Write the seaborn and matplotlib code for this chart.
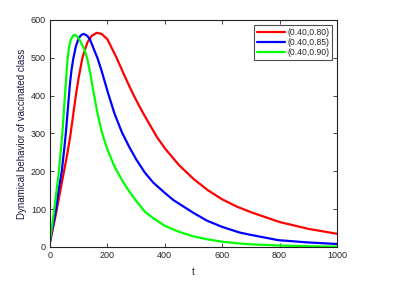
import numpy as np
import pandas as pd
import matplotlib
matplotlib.use("Agg")
from matplotlib import pyplot as plt
import seaborn as sns

# values
t_red = [0, 10, 20, 30, 40, 50, 60, 70, 80, 90, 100, 113, 130, 145, 163, 180, 200, 232, 260, 287, 310,
         331, 373, 401, 450, 500, 550, 600, 650, 700, 800, 900, 1000]
v_red = [12, 48, 85, 125, 165, 205, 245, 290, 345, 400, 448, 500, 540, 558, 566, 563, 549, 500, 452, 408, 374,
         345, 290, 260, 216, 180, 150, 126, 107, 92, 66, 48, 35]

t_blue = [0, 10, 21, 30, 41, 50, 55, 60, 66, 70, 75, 81, 90, 100, 110, 118, 130, 140, 150, 166, 180, 203,
          225, 250, 275, 300, 330, 360, 400, 430, 500, 546, 600, 662, 700, 796, 900, 1000]
v_blue = [15, 55, 100, 150, 200, 262, 300, 345, 400, 435, 468, 497, 530, 552, 561, 563, 558, 547, 528, 498, 465, 405,
          352, 304, 266, 232, 197, 170, 143, 124, 90, 70, 53, 38, 32, 18, 12, 8]

t_green = [0, 8, 15, 23, 31, 43, 52, 61, 66, 72, 80, 87, 95, 105, 120, 130, 140, 151, 165, 180, 200, 225,
           250, 275, 300, 331, 360, 400, 450, 500, 550, 600, 650, 700, 800, 900, 1000]
v_green = [18, 60, 100, 150, 200, 300, 400, 495, 527, 547, 558, 561, 556, 545, 522, 497, 460, 412, 355, 305, 258, 212,
           178, 148, 122, 93, 76, 56, 40, 28, 20, 14, 10, 7, 4, 2, 1]

labels = ["(0.40,0.80)", "(0.40,0.85)", "(0.40,0.90)"]
colors = ["#ff0000", "#0000ff", "#00ff00"]

df = pd.concat([
    pd.DataFrame({"t": t_red, "v": v_red, "case": labels[0]}),
    pd.DataFrame({"t": t_blue, "v": v_blue, "case": labels[1]}),
    pd.DataFrame({"t": t_green, "v": v_green, "case": labels[2]}),
])

sns.set_style("ticks")
plt.rcParams['font.family'] = ['Liberation Sans', 'DejaVu Sans']

fig = plt.figure(figsize=(4, 2.81), dpi=100)
ax = fig.add_axes([0.125, 0.121, 0.7175, 0.808])

sns.lineplot(data=df, x="t", y="v", hue="case", hue_order=labels, palette=colors,
             linewidth=1.6, ax=ax, sort=False, estimator=None)

ax.set_xlim(0, 1000)
ax.set_ylim(0, 600)
ax.set_xticks(np.arange(0, 1001, 200))
ax.set_yticks(np.arange(0, 601, 100))
ax.tick_params(direction="in", length=3, width=0.6, labelsize=6.5, top=True, right=True, pad=3)
for s in ax.spines.values():
    s.set_visible(True)
    s.set_linewidth(0.8)
    s.set_color("#222222")

ax.set_xlabel("t", fontsize=7, labelpad=5)
ax.set_ylabel("Dynamical behavior of vaccinated class", fontsize=7, color="#1a1a40", labelpad=3)

leg = ax.legend(loc="upper right", fontsize=6.2, frameon=True, fancybox=False, borderpad=0.3,
                handlelength=3.2, handletextpad=0.3, labelspacing=0.15, borderaxespad=0.6)
leg.get_frame().set_edgecolor("#222222")
leg.get_frame().set_linewidth(0.8)
leg.set_title(None)

fig.savefig("out.png", dpi=100)
